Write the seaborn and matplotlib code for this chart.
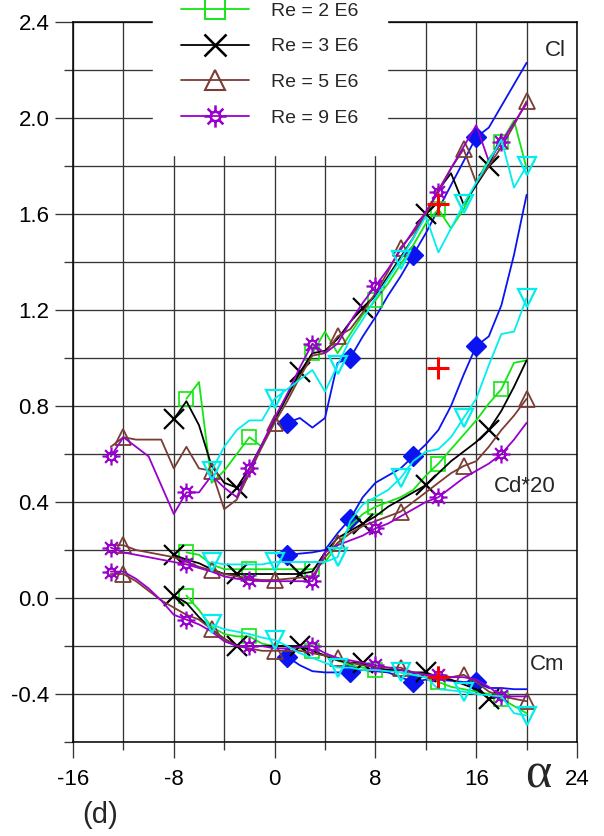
import numpy as np
import pandas as pd
import matplotlib
matplotlib.use("Agg")
import matplotlib.pyplot as plt
from matplotlib.path import Path
from matplotlib.lines import Line2D
from matplotlib.ticker import FixedLocator, FuncFormatter
import seaborn as sns

nan = np.nan

# ---- Re = 2 E6 (green squares) ----
ALPHA_2E6 = list(range(-7, 21))
CL_2E6 = [0.83, 0.90, 0.48, 0.53, 0.60, 0.67, 0.63, 0.75, 0.84, 0.93, 1.02, 1.11, 1.02, 1.10,
          1.18, 1.24, 1.31, 1.39, 1.47, 1.56, 1.62, 1.54, 1.62, 1.73, 1.83, 1.90, 1.99, 1.79]
CD20_2E6 = [0.19, 0.18, 0.14, 0.12, 0.12, 0.12, 0.12, 0.12, 0.12, 0.12, 0.12, 0.15, 0.22, 0.30,
            0.35, 0.38, 0.40, 0.42, 0.45, 0.51, 0.56, 0.62, 0.68, 0.74, 0.81, 0.87, 0.98, 0.99]
CM_2E6 = [0.01, -0.05, -0.12, -0.15, -0.16, -0.16, -0.19, -0.20, -0.20, -0.21, -0.22, -0.24, -0.26, -0.28,
          -0.29, -0.30, -0.30, -0.31, -0.32, -0.33, -0.35, -0.37, -0.38, -0.39, -0.40, -0.42, -0.45, -0.48]
MARKS_2E6 = [-7, -2, 3, 8, 13, 18]

# ---- Re = 3 E6 (black crosses) ----
ALPHA_3E6 = list(range(-8, 21))
CL_3E6 = [0.745, 0.82, 0.72, 0.55, 0.48, 0.46, 0.54, 0.64, 0.74, 0.84, 0.94, 1.02, 1.03, 1.08, 1.15,
          1.21, 1.26, 1.34, 1.42, 1.50, 1.60, 1.70, 1.77, 1.64, 1.72, 1.80, 1.93, nan, nan]
CD20_3E6 = [0.18, 0.16, 0.145, 0.12, 0.10, 0.10, 0.10, 0.10, 0.10, 0.10, 0.10, 0.11, 0.19, 0.25, 0.28,
            0.31, 0.34, 0.38, 0.41, 0.44, 0.47, 0.52, 0.57, 0.61, 0.65, 0.70, 0.78, 0.88, 0.99]
CM_3E6 = [0.01, -0.02, -0.08, -0.13, -0.17, -0.20, -0.20, -0.20, -0.20, -0.20, -0.20, -0.22, -0.24, -0.26, -0.27,
          -0.27, -0.29, -0.30, -0.30, -0.31, -0.31, -0.33, -0.34, -0.36, -0.38, -0.42, -0.41, nan, nan]
MARKS_3E6 = [-8, -3, 2, 7, 12, 17]

# ---- Re = 5 E6 (brown triangles) ----
ALPHA_5E6 = list(range(-13, 21))
CL_5E6 = [0.63, 0.67, 0.66, 0.66, 0.66, 0.54, 0.63, 0.54, 0.53, 0.37, 0.41, 0.52, 0.63,
          0.73, 0.82, 0.92, 1.01, 1.02, 1.09, 1.12, 1.19, 1.27, 1.36, 1.46, 1.52, 1.60, 1.70,
          1.79, 1.87, 1.73, 1.80, 1.88, 1.97, 2.07]
CD20_5E6 = [0.22, 0.22, 0.20, 0.19, 0.18, 0.17, 0.15, 0.13, 0.115, 0.10, 0.09, 0.08, 0.075,
            0.075, 0.08, 0.085, 0.09, 0.17, 0.23, 0.27, 0.30, 0.32, 0.34, 0.36, 0.40, 0.44, 0.48,
            0.52, 0.55, 0.57, 0.63, 0.70, 0.76, 0.83]
CM_5E6 = [0.10, 0.10, 0.07, 0.03, -0.01, -0.04, -0.07, -0.09, -0.13, -0.17, -0.20, -0.21, -0.22,
          -0.22, -0.22, -0.22, -0.23, -0.24, -0.25, -0.27, -0.28, -0.29, -0.29, -0.29, -0.31, -0.32, -0.33,
          -0.33, -0.32, -0.35, -0.39, -0.41, -0.42, -0.43]
MARKS_5E6 = [-12, -5, 0, 5, 10, 15, 20]

# ---- Re = 9 E6 (purple suns) ----
ALPHA_9E6 = list(range(-13, 21))
CL_9E6 = [0.59, 0.67, 0.63, 0.59, 0.47, 0.35, 0.44, 0.44, 0.51, 0.46, 0.42, 0.54, 0.64,
          0.75, 0.85, 0.96, 1.06, 1.02, 1.06, 1.15, 1.23, 1.30, 1.37, 1.45, 1.53, 1.61, 1.69,
          1.79, 1.88, 1.97, 1.82, 1.90, 1.98, 2.06]
CD20_9E6 = [0.21, 0.19, 0.18, 0.17, 0.16, 0.15, 0.14, 0.125, 0.11, 0.09, 0.08, 0.075, 0.07,
            0.07, 0.07, 0.07, 0.07, 0.19, 0.22, 0.24, 0.26, 0.29, 0.31, 0.34, 0.37, 0.40, 0.42,
            0.46, 0.50, 0.53, 0.56, 0.60, 0.66, 0.73]
CM_9E6 = [0.11, 0.11, 0.08, 0.04, -0.01, -0.07, -0.09, -0.11, -0.14, -0.18, -0.20, -0.20, -0.20,
          -0.21, -0.21, -0.205, -0.20, -0.23, -0.25, -0.26, -0.27, -0.28, -0.29, -0.30, -0.31, -0.32, -0.32,
          -0.33, -0.33, -0.34, -0.37, -0.41, -0.41, -0.41]
MARKS_9E6 = [-13, -7, -2, 3, 8, 13, 18]

# ---- cyan down-triangle run ----
ALPHA_VT = list(range(-5, 21))
CL_VT = [0.53, 0.63, 0.70, 0.74, 0.74, 0.83, 0.87, 0.91, 0.95, 0.86, 0.97, 1.08, 1.16,
         1.25, 1.33, 1.41, 1.50, 1.59, 1.44, 1.54, 1.64, 1.73, 1.82, 1.91, 1.71, 1.80]
CD20_VT = [0.15, 0.14, 0.14, 0.14, 0.14, 0.15, 0.15, 0.15, 0.15, 0.15, 0.17, 0.32, 0.39,
           0.42, 0.45, 0.50, 0.57, 0.61, 0.62, 0.67, 0.75, 0.83, 0.97, 1.10, 1.11, 1.25]
CM_VT = [-0.11, -0.13, -0.14, -0.15, -0.165, -0.175, -0.20, -0.23, -0.25, -0.27, -0.29, -0.29, -0.30,
         -0.30, -0.305, -0.31, -0.32, -0.33, -0.38, -0.385, -0.39, -0.40, -0.405, -0.41, -0.48, -0.49]
MARKS_VT = [-5, 0, 5, 10, 15, 20]

# ---- blue diamond run ----
ALPHA_DM = list(range(1, 21))
CL_DM = [0.73, 0.75, 0.71, 0.75, 0.98, 1.00, 1.09, 1.17, 1.26, 1.34, 1.43, 1.52, 1.62, 1.72,
         1.82, 1.92, 1.96, 2.05, 2.14, 2.23]
CD20_DM = [0.18, 0.185, 0.19, 0.20, 0.27, 0.33, 0.42, 0.48, 0.51, 0.54, 0.59, 0.64, 0.70, 0.80,
           0.93, 1.05, 1.09, 1.22, 1.43, 1.68]
CM_DM = [-0.245, -0.28, -0.305, -0.31, -0.31, -0.31, -0.30, -0.305, -0.31, -0.33, -0.35, -0.34, -0.34,
         -0.345, -0.35, -0.35, -0.375, -0.375, -0.38, -0.38]
MARKS_DM = [1, 6, 11, 16]

# ---- single red reference point ----
ALPHA_REF = [13]
CL_REF = [1.64]
CD20_REF = [0.96]
CM_REF = [-0.33]

LEGEND_LABELS = ["Re = 2 E6", "Re = 3 E6", "Re = 5 E6", "Re = 9 E6"]
X_MAJOR = [-16, -8, 0, 8, 16, 24]
X_MINOR = [-12, -4, 4, 12, 20]
Y_MAJOR = [-0.4, 0.0, 0.4, 0.8, 1.2, 1.6, 2.0, 2.4]
Y_MINOR = [-0.6, -0.2, 0.2, 0.6, 1.0, 1.4, 1.8, 2.2]


def sun_path(r0=0.42):
    circle = Path.circle((0, 0), r0)
    verts, codes = [], []
    for k in range(8):
        a = np.pi * k / 4
        verts += [(r0 * np.cos(a), r0 * np.sin(a)), (np.cos(a), np.sin(a))]
        codes += [Path.MOVETO, Path.LINETO]
    return Path.make_compound_path(circle, Path(verts, codes))


SUN = sun_path()

GREEN = "#12e612"
BROWN = "#7a3c34"
PURPLE = "#9a00cc"
CYAN = "#00eeee"
BLUE = "#0a14f0"

STYLES = {
    "2E6": dict(color=GREEN, marker="s", ms=10, leg_ms=15, mfc="none", mew=1.2),
    "3E6": dict(color="black", marker="x", ms=14, leg_ms=15.5, mfc="none", mew=1.6),
    "5E6": dict(color=BROWN, marker="^", ms=12, leg_ms=14, mfc="none", mew=1.3),
    "9E6": dict(color=PURPLE, marker=SUN, ms=13, leg_ms=16, mfc="none", mew=1.6),
    "VT": dict(color=CYAN, marker="v", ms=13, leg_ms=13, mfc="none", mew=1.6),
    "DM": dict(color=BLUE, marker="D", ms=10, leg_ms=10, mfc=BLUE, mew=1.0),
}

RUNS = [
    ("DM", ALPHA_DM, (CL_DM, CD20_DM, CM_DM), MARKS_DM),
    ("2E6", ALPHA_2E6, (CL_2E6, CD20_2E6, CM_2E6), MARKS_2E6),
    ("3E6", ALPHA_3E6, (CL_3E6, CD20_3E6, CM_3E6), MARKS_3E6),
    ("5E6", ALPHA_5E6, (CL_5E6, CD20_5E6, CM_5E6), MARKS_5E6),
    ("9E6", ALPHA_9E6, (CL_9E6, CD20_9E6, CM_9E6), MARKS_9E6),
    ("VT", ALPHA_VT, (CL_VT, CD20_VT, CM_VT), MARKS_VT),
]

sns.set_theme(style="white")
plt.rcParams["font.family"] = ["Liberation Sans", "DejaVu Sans"]
plt.rcParams["axes.unicode_minus"] = False

fig = plt.figure(figsize=(6.04, 8.36), dpi=100)
ax = fig.add_axes([73 / 604, 1 - 742 / 836, 504 / 604, 720 / 836])


def draw_curve(alpha, values, st, marks):
    df = pd.DataFrame({"alpha": alpha, "value": values}).dropna()
    mask = df["alpha"].isin(marks).tolist()
    sns.lineplot(data=df, x="alpha", y="value", ax=ax, estimator=None, sort=False,
                 color=st["color"], lw=1.3, marker=st["marker"], markevery=mask,
                 markersize=st["ms"], markerfacecolor=st["mfc"],
                 markeredgecolor=st["color"], markeredgewidth=st["mew"], legend=False)


for key, alpha, curves, marks in RUNS:
    for values in curves:
        draw_curve(alpha, values, STYLES[key], marks)

for values in (CL_REF, CD20_REF, CM_REF):
    sns.scatterplot(x=ALPHA_REF, y=values, ax=ax, marker="+", s=260, color="#ff0000",
                    linewidth=2.2, legend=False, zorder=6)

ax.set_xlim(-16, 24)
ax.set_ylim(-0.6, 2.4)
ax.set_xlabel("")
ax.set_ylabel("")
ax.xaxis.set_major_locator(FixedLocator(X_MAJOR))
ax.xaxis.set_minor_locator(FixedLocator(X_MINOR))
ax.yaxis.set_major_locator(FixedLocator(Y_MAJOR))
ax.yaxis.set_minor_locator(FixedLocator(Y_MINOR))
ax.xaxis.set_major_formatter(FuncFormatter(lambda v, p: f"{v:.0f}"))
ax.yaxis.set_major_formatter(FuncFormatter(lambda v, p: f"{v:.1f}"))

GRID = "#353535"
ax.set_axisbelow(True)
ax.grid(which="both", color=GRID, lw=0.95)
ax.tick_params(axis="y", which="major", direction="out", length=13, width=0.95, color=GRID,
               pad=4, labelsize=16, labelcolor="black", left=True)
ax.tick_params(axis="y", which="minor", direction="out", length=6.5, width=0.95, color=GRID, left=True)
ax.tick_params(axis="x", which="major", direction="out", length=11.5, width=0.95, color=GRID,
               pad=8, labelsize=16, labelcolor="black", bottom=True)
ax.tick_params(axis="x", which="minor", direction="out", length=6, width=0.95, color=GRID, bottom=True)
for side in ("left", "right", "top", "bottom"):
    ax.spines[side].set_visible(True)
    ax.spines[side].set_color("black")
    ax.spines[side].set_linewidth(1.1)

ax.text(22.25, 2.283, "Cl", fontsize=16, ha="center", va="center")
ax.text(19.87, 0.4625, "Cd*20", fontsize=16, ha="center", va="center")
ax.text(21.6, -0.279, "Cm", fontsize=16, ha="center", va="center")

fig.text(538 / 604, 1 - 787 / 836, "\u03b1", fontsize=36, family="Liberation Serif",
         ha="center", va="baseline")
fig.text(100 / 604, 1 - 815 / 836, "(d)", fontsize=21, ha="center", va="center")

handles = []
for key in ("2E6", "3E6", "5E6", "9E6"):
    st = STYLES[key]
    handles.append(Line2D([], [], color=st["color"], lw=1.3, marker=st["marker"],
                          markersize=st["leg_ms"], markerfacecolor="none",
                          markeredgecolor=st["color"], markeredgewidth=st["mew"] * 1.15))
leg = ax.legend(handles, LEGEND_LABELS, loc="lower left",
                bbox_to_anchor=(153 / 604, 1 - 155 / 836), bbox_transform=fig.transFigure,
                borderaxespad=0, borderpad=1.45, handlelength=3.5, handletextpad=1.13,
                labelspacing=0.93, fontsize=14, frameon=True, fancybox=False,
                facecolor="white", edgecolor="white", framealpha=1.0)
leg.set_zorder(10)

fig.savefig("out.png", dpi=100)
